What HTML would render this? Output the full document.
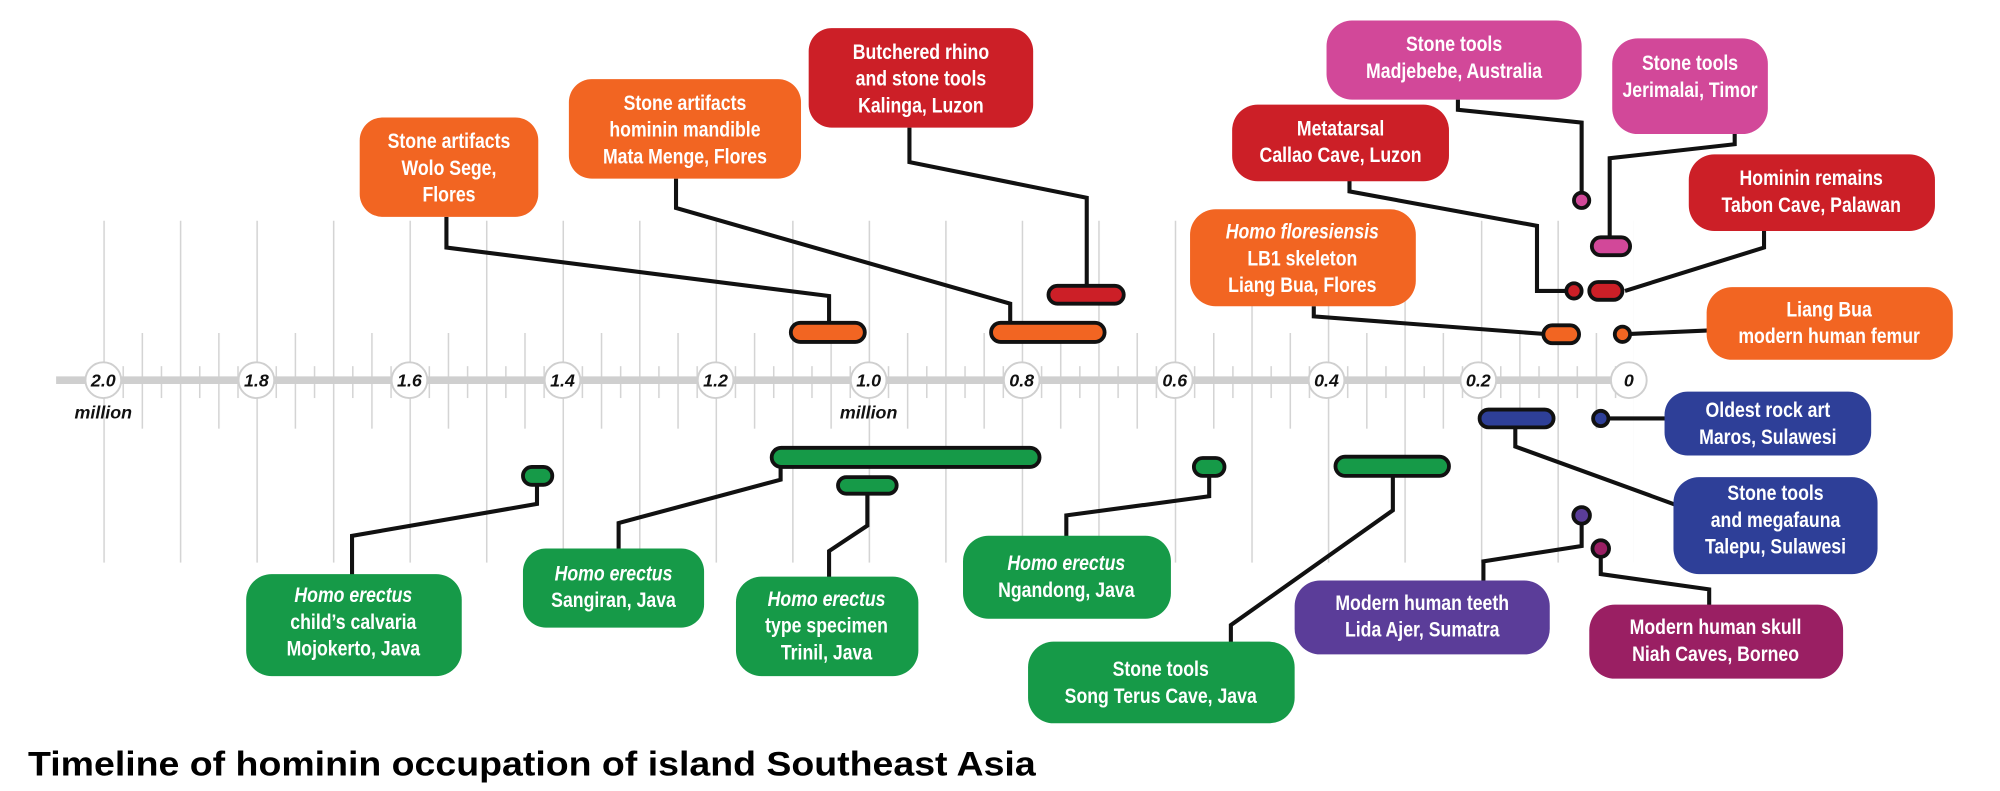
<!DOCTYPE html>
<html><head><meta charset="utf-8"><style>
html,body{margin:0;padding:0;background:#fff;}
svg{display:block;}
.t{font-family:"Liberation Sans",sans-serif;font-size:16.5px;font-weight:bold;fill:#fff;text-anchor:middle;transform-box:fill-box;transform-origin:center;transform:scaleX(0.84);}
.i{font-style:italic;}
.c{fill:none;stroke:#111;stroke-width:3.2;stroke-linejoin:miter;}
.b{stroke:#111;stroke-width:3;}
.ax{font-family:"Liberation Sans",sans-serif;font-size:14px;font-weight:bold;font-style:italic;fill:#111;text-anchor:middle;}
</style></head><body>
<svg width="2000" height="791" viewBox="0 0 1568 620" xmlns="http://www.w3.org/2000/svg">
<defs>
<pattern id="pl" x="81" y="0" width="60" height="620" patternUnits="userSpaceOnUse"><rect x="0" y="0" width="1.2" height="620" fill="#d4d4d4"/></pattern>
<pattern id="pm" x="111" y="0" width="60" height="620" patternUnits="userSpaceOnUse"><rect x="0" y="0" width="1.2" height="620" fill="#d4d4d4"/></pattern>
<pattern id="ps" x="96" y="0" width="30" height="620" patternUnits="userSpaceOnUse"><rect x="0" y="0" width="1.2" height="620" fill="#d4d4d4"/></pattern>
</defs>
<rect x="75" y="173" width="1206" height="268" fill="url(#pl)"/>
<rect x="75" y="261" width="1206" height="75" fill="url(#pm)"/>
<rect x="75" y="287" width="1206" height="25" fill="url(#ps)"/>
<line x1="44" y1="298" x2="1277" y2="298" stroke="#cfcfcf" stroke-width="6"/>
<g fill="#fff" stroke="#cfcfcf" stroke-width="1.5">
<circle cx="81" cy="298" r="14"/><circle cx="201" cy="298" r="14"/><circle cx="321" cy="298" r="14"/><circle cx="441" cy="298" r="14"/><circle cx="561" cy="298" r="14"/><circle cx="681" cy="298" r="14"/><circle cx="801" cy="298" r="14"/><circle cx="921" cy="298" r="14"/><circle cx="1040" cy="298" r="14"/><circle cx="1159" cy="298" r="14"/><circle cx="1277" cy="298" r="14"/>
</g>
<g class="ax">
<text x="81" y="303">2.0</text><text x="201" y="303">1.8</text><text x="321" y="303">1.6</text><text x="441" y="303">1.4</text><text x="561" y="303">1.2</text><text x="681" y="303">1.0</text><text x="801" y="303">0.8</text><text x="921" y="303">0.6</text><text x="1040" y="303">0.4</text><text x="1159" y="303">0.2</text><text x="1277" y="303">0</text>
<text x="81" y="328">million</text><text x="681" y="328">million</text>
</g>

<!-- connectors -->
<polyline class="c" points="350,170 350,194 650,232 650,253"/>
<polyline class="c" points="530,140 530,163 792,238 792,253"/>
<polyline class="c" points="713,100 713,127 852,155 852,224"/>
<polyline class="c" points="1143,78 1143,86 1240,96 1240,155"/>
<polyline class="c" points="1360,105 1360,113 1262,124 1262,186"/>
<polyline class="c" points="1058,140 1058,150 1205,177 1205,228 1228,228"/>
<polyline class="c" points="1383,180 1383,194 1274,228"/>
<polyline class="c" points="1030,240 1030,248 1214,262"/>
<polyline class="c" points="1272,262 1340,259"/>
<polyline class="c" points="1255,328 1310,328"/>
<polyline class="c" points="1188,335 1188,350 1320,398"/>
<polyline class="c" points="1240,404 1240,428 1163,440 1163,458"/>
<polyline class="c" points="1255,430 1255,450 1340,462 1340,476"/>
<polyline class="c" points="612,366 612,376 485,410 485,432"/>
<polyline class="c" points="680,387 680,412 650,432 650,455"/>
<polyline class="c" points="421,381 421,395 276,420 276,452"/>
<polyline class="c" points="948,373 948,389 836,404 836,422"/>
<polyline class="c" points="1092,373 1092,400 965,490 965,505"/>

<!-- bars -->
<rect class="b" x="620" y="253" width="58" height="15" rx="7.5" fill="#f26522"/>
<rect class="b" x="777" y="253" width="89" height="15" rx="7.5" fill="#f26522"/>
<rect class="b" x="822" y="224" width="59" height="14" rx="7" fill="#cc1f27"/>
<circle class="b" cx="1240" cy="157" r="6" fill="#d24899"/>
<rect class="b" x="1248" y="186" width="30" height="14" rx="7" fill="#d24899"/>
<circle class="b" cx="1234" cy="228" r="6" fill="#cc1f27"/>
<rect class="b" x="1246" y="221" width="26" height="14" rx="7" fill="#cc1f27"/>
<rect class="b" x="1210" y="255" width="28" height="14" rx="7" fill="#f26522"/>
<circle class="b" cx="1272" cy="262" r="6" fill="#f26522"/>
<rect class="b" x="1160" y="321" width="58" height="14" rx="7" fill="#2e3f98"/>
<circle class="b" cx="1255" cy="328" r="6" fill="#2e3f98"/>
<circle class="b" cx="1240" cy="404" r="6.5" fill="#5b3d99"/>
<circle class="b" cx="1255" cy="430" r="6.5" fill="#9a1f63"/>
<rect class="b" x="605" y="351" width="210" height="15" rx="7.5" fill="#169a48"/>
<rect class="b" x="657" y="374" width="46" height="13" rx="6.5" fill="#169a48"/>
<rect class="b" x="410" y="366" width="23" height="14" rx="7" fill="#169a48"/>
<rect class="b" x="936" y="359" width="24" height="14" rx="7" fill="#169a48"/>
<rect class="b" x="1047" y="358" width="89" height="15" rx="7.5" fill="#169a48"/>

<!-- boxes -->
<rect x="282" y="92" width="140" height="78" rx="18" fill="#f26522"/>
<text class="t" x="352" y="116">Stone artifacts</text><text class="t" x="352" y="137">Wolo Sege,</text><text class="t" x="352" y="158">Flores</text>

<rect x="446" y="62" width="182" height="78" rx="18" fill="#f26522"/>
<text class="t" x="537" y="86">Stone artifacts</text><text class="t" x="537" y="107">hominin mandible</text><text class="t" x="537" y="128">Mata Menge, Flores</text>

<rect x="634" y="22" width="176" height="78" rx="18" fill="#cc1f27"/>
<text class="t" x="722" y="46">Butchered rhino</text><text class="t" x="722" y="67">and stone tools</text><text class="t" x="722" y="88">Kalinga, Luzon</text>

<rect x="1040" y="16" width="200" height="62" rx="20" fill="#d24899"/>
<text class="t" x="1140" y="40">Stone tools</text><text class="t" x="1140" y="61">Madjebebe, Australia</text>

<rect x="1264" y="30" width="122" height="75" rx="20" fill="#d24899"/>
<text class="t" x="1325" y="55">Stone tools</text><text class="t" x="1325" y="76">Jerimalai, Timor</text>

<rect x="966" y="82" width="170" height="60" rx="20" fill="#cc1f27"/>
<text class="t" x="1051" y="106">Metatarsal</text><text class="t" x="1051" y="127">Callao Cave, Luzon</text>

<rect x="1324" y="121" width="193" height="60" rx="20" fill="#cc1f27"/>
<text class="t" x="1420" y="145">Hominin remains</text><text class="t" x="1420" y="166">Tabon Cave, Palawan</text>

<rect x="933" y="164" width="177" height="76" rx="20" fill="#f26522"/>
<text class="t i" x="1021" y="187">Homo floresiensis</text><text class="t" x="1021" y="208">LB1 skeleton</text><text class="t" x="1021" y="229">Liang Bua, Flores</text>

<rect x="1338" y="225" width="193" height="57" rx="20" fill="#f26522"/>
<text class="t" x="1434" y="248">Liang Bua</text><text class="t" x="1434" y="269">modern human femur</text>

<rect x="1305" y="307" width="162" height="50" rx="18" fill="#2e3f98"/>
<text class="t" x="1386" y="327">Oldest rock art</text><text class="t" x="1386" y="348">Maros, Sulawesi</text>

<rect x="1312" y="374" width="160" height="76" rx="20" fill="#2e3f98"/>
<text class="t" x="1392" y="392">Stone tools</text><text class="t" x="1392" y="413">and megafauna</text><text class="t" x="1392" y="434">Talepu, Sulawesi</text>

<rect x="1015" y="455" width="200" height="58" rx="20" fill="#5b3d99"/>
<text class="t" x="1115" y="478">Modern human teeth</text><text class="t" x="1115" y="499">Lida Ajer, Sumatra</text>

<rect x="1246" y="474" width="199" height="58" rx="20" fill="#9a1f63"/>
<text class="t" x="1345" y="497">Modern human skull</text><text class="t" x="1345" y="518">Niah Caves, Borneo</text>

<rect x="193" y="450" width="169" height="80" rx="20" fill="#169a48"/>
<text class="t i" x="277" y="472">Homo erectus</text><text class="t" x="277" y="493">child’s calvaria</text><text class="t" x="277" y="514">Mojokerto, Java</text>

<rect x="410" y="430" width="142" height="62" rx="18" fill="#169a48"/>
<text class="t i" x="481" y="455">Homo erectus</text><text class="t" x="481" y="476">Sangiran, Java</text>

<rect x="577" y="452" width="143" height="78" rx="20" fill="#169a48"/>
<text class="t i" x="648" y="475">Homo erectus</text><text class="t" x="648" y="496">type specimen</text><text class="t" x="648" y="517">Trinil, Java</text>

<rect x="755" y="420" width="163" height="65" rx="20" fill="#169a48"/>
<text class="t i" x="836" y="447">Homo erectus</text><text class="t" x="836" y="468">Ngandong, Java</text>

<rect x="806" y="503" width="209" height="64" rx="20" fill="#169a48"/>
<text class="t" x="910" y="530">Stone tools</text><text class="t" x="910" y="551">Song Terus Cave, Java</text>

<text x="22" y="608" font-family="'Liberation Sans',sans-serif" font-size="27" font-weight="bold" fill="#000" textLength="790" lengthAdjust="spacingAndGlyphs">Timeline of hominin occupation of island Southeast Asia</text>
</svg>
</body></html>
